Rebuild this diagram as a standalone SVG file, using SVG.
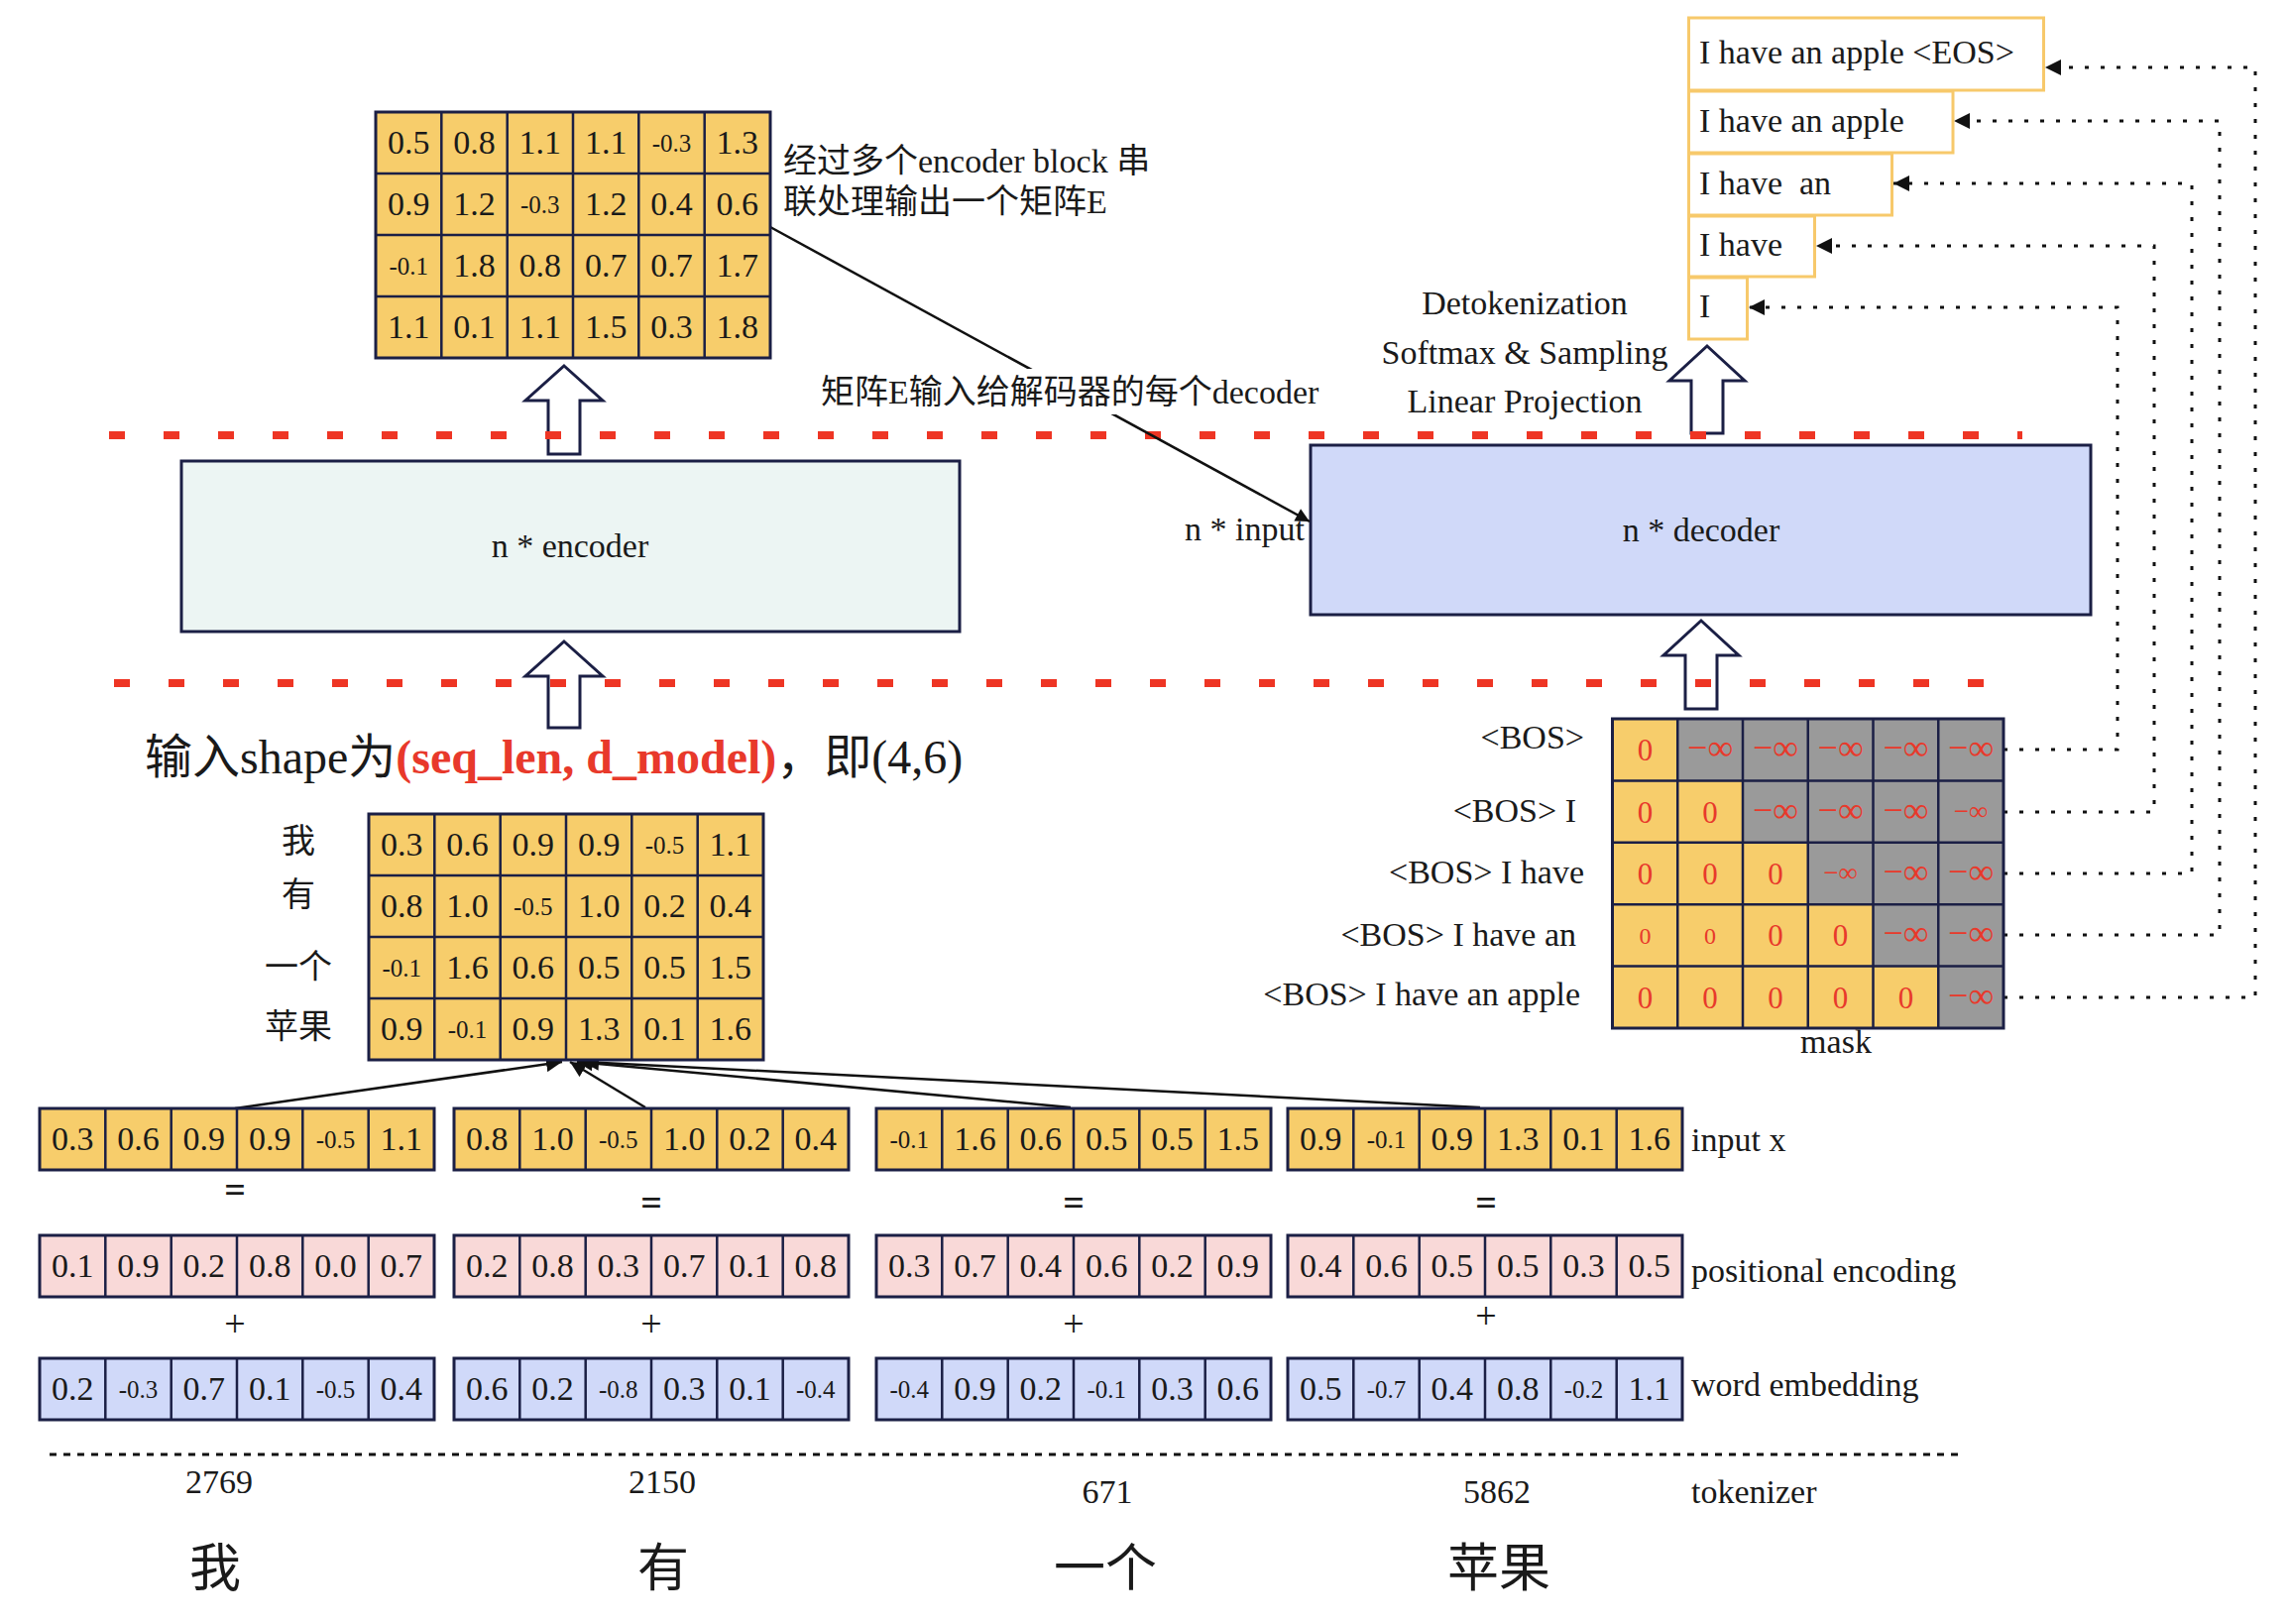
<svg xmlns="http://www.w3.org/2000/svg" width="2310" height="1638" viewBox="0 0 2310 1638">
<style>
text{font-family:'Liberation Serif','Noto Sans CJK SC',serif;fill:#1a1a1a}
.n{font-size:34px;text-anchor:middle}
.s{font-size:25px;text-anchor:middle}
.l{font-size:34px}
.op{font-size:38px;text-anchor:middle}
.cjk{font-family:'Noto Sans CJK SC',sans-serif;text-anchor:middle}
.yc{fill:#F7CD6B;stroke:#1B1F45;stroke-width:3}
.pc{fill:#F9D9D8;stroke:#1B1F45;stroke-width:3}
.bc{fill:#D0D9F9;stroke:#1B1F45;stroke-width:3}
.gl{fill:none;stroke:#1B1F45;stroke-width:2.5}
.ob{fill:#fff;stroke:#F7C96B;stroke-width:3}
.ha{fill:#fff;stroke:#1B1F45;stroke-width:3;stroke-linejoin:miter}
.rd{stroke:#EE3524;stroke-width:8;stroke-dasharray:16 39;fill:none}
.dot{fill:none;stroke:#111;stroke-width:3;stroke-dasharray:4 12}
.con{fill:none;stroke:#111;stroke-width:2.5}
.red{fill:#E8392B}
.z{font-size:31px;text-anchor:middle;fill:#E8392B}
.zs{font-size:24px;text-anchor:middle;fill:#E8392B}
.inf{font-size:36px;text-anchor:middle;fill:#E8392B}
.infs{font-size:27px;text-anchor:middle;fill:#E8392B}
</style>
<defs>
<marker id="ah" viewBox="0 0 10 10" refX="10" refY="5" markerWidth="16" markerHeight="16" markerUnits="userSpaceOnUse" orient="auto"><path d="M0,0 L10,5 L0,10 z" fill="#111"/></marker>
<marker id="ah2" viewBox="0 0 10 10" refX="10" refY="5" markerWidth="18" markerHeight="14" markerUnits="userSpaceOnUse" orient="auto"><path d="M0,0 L10,5 L0,10 z" fill="#111"/></marker>
</defs>
<rect width="2310" height="1638" fill="#fff"/>

<!-- hollow arrows -->
<g id="arrows">
<polygon class="ha" points="569,369 608,404 585,404 585,458 553,458 553,404 530,404"/>
<polygon class="ha" points="569,647 608,682 585,682 585,734 553,734 553,682 530,682"/>
<polygon class="ha" points="1716,626 1754,661 1732,661 1732,715 1700,715 1700,661 1678,661"/>
<polygon class="ha" points="1722,349 1760,384 1738,384 1738,437 1706,437 1706,384 1684,384"/>
</g>

<!-- red separators -->
<g id="separators">
<line class="rd" x1="110" y1="439" x2="2040" y2="439"/>
<line class="rd" x1="115" y1="689" x2="2040" y2="689"/>
</g>

<!-- encoder -->
<g id="encoder">
<rect x="183" y="465" width="785" height="172" fill="#ECF5F3" stroke="#1B1F45" stroke-width="3"/>
<text class="n" x="575" y="562">n * encoder</text>
</g>

<!-- decoder -->
<g id="decoder">
<rect x="1322" y="449" width="787" height="171" fill="#D0D9F9" stroke="#1B1F45" stroke-width="3"/>
<text class="n" x="1716" y="546">n * decoder</text>
<text class="l" x="1316" y="545" text-anchor="end">n * input</text>
</g>

<!-- connectors -->
<g id="connectors">
<line class="con" x1="777" y1="229" x2="1321" y2="526" marker-end="url(#ah2)"/>
<line class="con" x1="237" y1="1118" x2="567" y2="1071" marker-end="url(#ah)"/>
<line class="con" x1="651" y1="1117" x2="575" y2="1071" marker-end="url(#ah)"/>
<line class="con" x1="1080" y1="1117" x2="582" y2="1071" marker-end="url(#ah)"/>
<line class="con" x1="1493" y1="1117" x2="588" y2="1071" marker-end="url(#ah)"/>
<path class="dot" d="M2021,1006 H2275 V68 H2063" marker-end="url(#ah)"/>
<path class="dot" d="M2021,943 H2239 V122 H1971" marker-end="url(#ah)"/>
<path class="dot" d="M2021,881 H2211 V185 H1910" marker-end="url(#ah)"/>
<path class="dot" d="M2021,819 H2173 V248 H1832" marker-end="url(#ah)"/>
<path class="dot" d="M2021,756 H2136 V310 H1764" marker-end="url(#ah)"/>
<line x1="50" y1="1467" x2="1982" y2="1467" stroke="#111" stroke-width="3" stroke-dasharray="7 7"/>
</g>

<!-- label on E->decoder -->
<g id="label-e">
<rect x="822" y="372" width="522" height="46" fill="#fff"/>
<text class="l" x="828" y="407">矩阵E输入给解码器的每个decoder</text>
</g>

<!-- matrix E -->
<g id="matrix-e">
<rect class="yc" x="379" y="113" width="398" height="248"/>
<path class="gl" d="M445.3,113V361M511.7,113V361M578,113V361M644.3,113V361M710.7,113V361M379,175H777M379,237H777M379,299H777"/>
<text class="n" x="412.2" y="155">0.5</text><text class="n" x="478.5" y="155">0.8</text><text class="n" x="544.8" y="155">1.1</text><text class="n" x="611.2" y="155">1.1</text><text class="s" x="677.5" y="153">-0.3</text><text class="n" x="743.8" y="155">1.3</text>
<text class="n" x="412.2" y="217">0.9</text><text class="n" x="478.5" y="217">1.2</text><text class="s" x="544.8" y="215">-0.3</text><text class="n" x="611.2" y="217">1.2</text><text class="n" x="677.5" y="217">0.4</text><text class="n" x="743.8" y="217">0.6</text>
<text class="s" x="412.2" y="277">-0.1</text><text class="n" x="478.5" y="279">1.8</text><text class="n" x="544.8" y="279">0.8</text><text class="n" x="611.2" y="279">0.7</text><text class="n" x="677.5" y="279">0.7</text><text class="n" x="743.8" y="279">1.7</text>
<text class="n" x="412.2" y="341">1.1</text><text class="n" x="478.5" y="341">0.1</text><text class="n" x="544.8" y="341">1.1</text><text class="n" x="611.2" y="341">1.5</text><text class="n" x="677.5" y="341">0.3</text><text class="n" x="743.8" y="341">1.8</text>
</g>
<g id="note-e">
<text class="l" x="790" y="174">经过多个encoder block 串</text>
<text class="l" x="790" y="215">联处理输出一个矩阵E</text>
</g>

<!-- decoder output side labels -->
<g id="head-labels">
<text class="n" x="1538" y="317">Detokenization</text>
<text class="n" x="1538" y="367">Softmax &amp; Sampling</text>
<text class="n" x="1538" y="416">Linear Projection</text>
</g>

<!-- output boxes -->
<g id="out1"><rect class="ob" x="1703.5" y="18" width="358" height="73"/><text class="l" x="1714" y="64">I have an apple &lt;EOS&gt;</text></g>
<g id="out2"><rect class="ob" x="1703.5" y="92" width="266.5" height="62"/><text class="l" x="1714" y="133">I have an apple</text></g>
<g id="out3"><rect class="ob" x="1703.5" y="155" width="205" height="62"/><text class="l" x="1714" y="196" style="white-space:pre">I have  an</text></g>
<g id="out4"><rect class="ob" x="1703.5" y="218" width="127" height="61"/><text class="l" x="1714" y="258">I have</text></g>
<g id="out5"><rect class="ob" x="1703.5" y="280" width="59" height="62"/><text class="l" x="1714" y="320">I</text></g>

<!-- shape caption -->
<g id="caption">
<text x="146" y="780" style="font-size:48px">输入shape为<tspan class="red" font-weight="bold">(seq_len, d_model)</tspan>，即(4,6)</text>
</g>

<!-- input matrix -->
<g id="matrix-x">
<rect class="yc" x="372" y="821" width="398" height="248"/>
<path class="gl" d="M438.3,821V1069M504.7,821V1069M571,821V1069M637.3,821V1069M703.7,821V1069M372,883H770M372,945H770M372,1007H770"/>
<text class="n" x="405.2" y="863">0.3</text><text class="n" x="471.5" y="863">0.6</text><text class="n" x="537.8" y="863">0.9</text><text class="n" x="604.2" y="863">0.9</text><text class="s" x="670.5" y="861">-0.5</text><text class="n" x="736.8" y="863">1.1</text>
<text class="n" x="405.2" y="925">0.8</text><text class="n" x="471.5" y="925">1.0</text><text class="s" x="537.8" y="923">-0.5</text><text class="n" x="604.2" y="925">1.0</text><text class="n" x="670.5" y="925">0.2</text><text class="n" x="736.8" y="925">0.4</text>
<text class="s" x="405.2" y="985">-0.1</text><text class="n" x="471.5" y="987">1.6</text><text class="n" x="537.8" y="987">0.6</text><text class="n" x="604.2" y="987">0.5</text><text class="n" x="670.5" y="987">0.5</text><text class="n" x="736.8" y="987">1.5</text>
<text class="n" x="405.2" y="1049">0.9</text><text class="s" x="471.5" y="1047">-0.1</text><text class="n" x="537.8" y="1049">0.9</text><text class="n" x="604.2" y="1049">1.3</text><text class="n" x="670.5" y="1049">0.1</text><text class="n" x="736.8" y="1049">1.6</text>
<text class="cjk" x="301" y="860" font-size="34">我</text>
<text class="cjk" x="301" y="914" font-size="34">有</text>
<text class="cjk" x="301" y="987" font-size="34">一个</text>
<text class="cjk" x="301" y="1047" font-size="34">苹果</text>
</g>

<!-- input x vectors -->
<g id="input-x">
<rect class="yc" x="40" y="1118" width="398" height="62"/><rect class="yc" x="458" y="1118" width="398" height="62"/><rect class="yc" x="884" y="1118" width="398" height="62"/><rect class="yc" x="1299" y="1118" width="398" height="62"/>
<path class="gl" d="M106.3,1118v62M172.7,1118v62M239,1118v62M305.3,1118v62M371.7,1118v62M524.3,1118v62M590.7,1118v62M657,1118v62M723.3,1118v62M789.7,1118v62M950.3,1118v62M1016.7,1118v62M1083,1118v62M1149.3,1118v62M1215.7,1118v62M1365.3,1118v62M1431.7,1118v62M1498,1118v62M1564.3,1118v62M1630.7,1118v62"/>
<text class="n" x="73.2" y="1160">0.3</text><text class="n" x="139.5" y="1160">0.6</text><text class="n" x="205.8" y="1160">0.9</text><text class="n" x="272.2" y="1160">0.9</text><text class="s" x="338.5" y="1158">-0.5</text><text class="n" x="404.8" y="1160">1.1</text>
<text class="n" x="491.2" y="1160">0.8</text><text class="n" x="557.5" y="1160">1.0</text><text class="s" x="623.8" y="1158">-0.5</text><text class="n" x="690.2" y="1160">1.0</text><text class="n" x="756.5" y="1160">0.2</text><text class="n" x="822.8" y="1160">0.4</text>
<text class="s" x="917.2" y="1158">-0.1</text><text class="n" x="983.5" y="1160">1.6</text><text class="n" x="1049.8" y="1160">0.6</text><text class="n" x="1116.2" y="1160">0.5</text><text class="n" x="1182.5" y="1160">0.5</text><text class="n" x="1248.8" y="1160">1.5</text>
<text class="n" x="1332.2" y="1160">0.9</text><text class="s" x="1398.5" y="1158">-0.1</text><text class="n" x="1464.8" y="1160">0.9</text><text class="n" x="1531.2" y="1160">1.3</text><text class="n" x="1597.5" y="1160">0.1</text><text class="n" x="1663.8" y="1160">1.6</text>
<text class="l" x="1706" y="1161">input x</text>
</g>

<!-- operators -->
<g id="ops">
<text class="op" x="237" y="1213" font-weight="bold">=</text><text class="op" x="657" y="1226" font-weight="bold">=</text><text class="op" x="1083" y="1226" font-weight="bold">=</text><text class="op" x="1499" y="1226" font-weight="bold">=</text>
<text class="op" x="237" y="1348">+</text><text class="op" x="657" y="1348">+</text><text class="op" x="1083" y="1348">+</text><text class="op" x="1499" y="1340">+</text>
</g>

<!-- positional encoding -->
<g id="pos-enc">
<rect class="pc" x="40" y="1246" width="398" height="62"/><rect class="pc" x="458" y="1246" width="398" height="62"/><rect class="pc" x="884" y="1246" width="398" height="62"/><rect class="pc" x="1299" y="1246" width="398" height="62"/>
<path class="gl" d="M106.3,1246v62M172.7,1246v62M239,1246v62M305.3,1246v62M371.7,1246v62M524.3,1246v62M590.7,1246v62M657,1246v62M723.3,1246v62M789.7,1246v62M950.3,1246v62M1016.7,1246v62M1083,1246v62M1149.3,1246v62M1215.7,1246v62M1365.3,1246v62M1431.7,1246v62M1498,1246v62M1564.3,1246v62M1630.7,1246v62"/>
<text class="n" x="73.2" y="1288">0.1</text><text class="n" x="139.5" y="1288">0.9</text><text class="n" x="205.8" y="1288">0.2</text><text class="n" x="272.2" y="1288">0.8</text><text class="n" x="338.5" y="1288">0.0</text><text class="n" x="404.8" y="1288">0.7</text>
<text class="n" x="491.2" y="1288">0.2</text><text class="n" x="557.5" y="1288">0.8</text><text class="n" x="623.8" y="1288">0.3</text><text class="n" x="690.2" y="1288">0.7</text><text class="n" x="756.5" y="1288">0.1</text><text class="n" x="822.8" y="1288">0.8</text>
<text class="n" x="917.2" y="1288">0.3</text><text class="n" x="983.5" y="1288">0.7</text><text class="n" x="1049.8" y="1288">0.4</text><text class="n" x="1116.2" y="1288">0.6</text><text class="n" x="1182.5" y="1288">0.2</text><text class="n" x="1248.8" y="1288">0.9</text>
<text class="n" x="1332.2" y="1288">0.4</text><text class="n" x="1398.5" y="1288">0.6</text><text class="n" x="1464.8" y="1288">0.5</text><text class="n" x="1531.2" y="1288">0.5</text><text class="n" x="1597.5" y="1288">0.3</text><text class="n" x="1663.8" y="1288">0.5</text>
<text class="l" x="1706" y="1293">positional encoding</text>
</g>

<!-- word embedding -->
<g id="word-emb">
<rect class="bc" x="40" y="1370" width="398" height="62"/><rect class="bc" x="458" y="1370" width="398" height="62"/><rect class="bc" x="884" y="1370" width="398" height="62"/><rect class="bc" x="1299" y="1370" width="398" height="62"/>
<path class="gl" d="M106.3,1370v62M172.7,1370v62M239,1370v62M305.3,1370v62M371.7,1370v62M524.3,1370v62M590.7,1370v62M657,1370v62M723.3,1370v62M789.7,1370v62M950.3,1370v62M1016.7,1370v62M1083,1370v62M1149.3,1370v62M1215.7,1370v62M1365.3,1370v62M1431.7,1370v62M1498,1370v62M1564.3,1370v62M1630.7,1370v62"/>
<text class="n" x="73.2" y="1412">0.2</text><text class="s" x="139.5" y="1410">-0.3</text><text class="n" x="205.8" y="1412">0.7</text><text class="n" x="272.2" y="1412">0.1</text><text class="s" x="338.5" y="1410">-0.5</text><text class="n" x="404.8" y="1412">0.4</text>
<text class="n" x="491.2" y="1412">0.6</text><text class="n" x="557.5" y="1412">0.2</text><text class="s" x="623.8" y="1410">-0.8</text><text class="n" x="690.2" y="1412">0.3</text><text class="n" x="756.5" y="1412">0.1</text><text class="s" x="822.8" y="1410">-0.4</text>
<text class="s" x="917.2" y="1410">-0.4</text><text class="n" x="983.5" y="1412">0.9</text><text class="n" x="1049.8" y="1412">0.2</text><text class="s" x="1116.2" y="1410">-0.1</text><text class="n" x="1182.5" y="1412">0.3</text><text class="n" x="1248.8" y="1412">0.6</text>
<text class="n" x="1332.2" y="1412">0.5</text><text class="s" x="1398.5" y="1410">-0.7</text><text class="n" x="1464.8" y="1412">0.4</text><text class="n" x="1531.2" y="1412">0.8</text><text class="s" x="1597.5" y="1410">-0.2</text><text class="n" x="1663.8" y="1412">1.1</text>
<text class="l" x="1706" y="1408">word embedding</text>
</g>

<!-- tokenizer -->
<g id="tokens">
<text class="n" x="221" y="1506">2769</text><text class="n" x="668" y="1506">2150</text><text class="n" x="1117" y="1516">671</text><text class="n" x="1510" y="1516">5862</text>
<text class="l" x="1706" y="1516">tokenizer</text>
<text class="cjk" x="217" y="1600" font-size="52">我</text>
<text class="cjk" x="669" y="1600" font-size="52">有</text>
<text class="cjk" x="1115" y="1600" font-size="52">一个</text>
<text class="cjk" x="1512" y="1600" font-size="52">苹果</text>
</g>

<!-- mask -->
<g id="mask">
<rect x="1626.5" y="725" width="394.5" height="312" fill="#9A9A9A"/>
<polygon points="1626.5,725 1692.25,725 1692.25,787.4 1758,787.4 1758,849.8 1823.75,849.8 1823.75,912.2 1889.5,912.2 1889.5,974.6 1955.25,974.6 1955.25,1037 1626.5,1037" fill="#F7CD6B"/>
<rect x="1626.5" y="725" width="394.5" height="312" fill="none" stroke="#1B1F45" stroke-width="3"/>
<path class="gl" d="M1692.25,725V1037M1758,725V1037M1823.75,725V1037M1889.5,725V1037M1955.25,725V1037M1626.5,787.4H2021M1626.5,849.8H2021M1626.5,912.2H2021M1626.5,974.6H2021"/>
<text class="z" x="1659.4" y="767">0</text><text class="inf" x="1725.1" y="766">−∞</text><text class="inf" x="1790.9" y="766">−∞</text><text class="inf" x="1856.6" y="766">−∞</text><text class="inf" x="1922.4" y="766">−∞</text><text class="inf" x="1988.1" y="766">−∞</text>
<text class="z" x="1659.4" y="830">0</text><text class="z" x="1725.1" y="830">0</text><text class="inf" x="1790.9" y="829">−∞</text><text class="inf" x="1856.6" y="829">−∞</text><text class="inf" x="1922.4" y="829">−∞</text><text class="infs" x="1988.1" y="827">−∞</text>
<text class="z" x="1659.4" y="892">0</text><text class="z" x="1725.1" y="892">0</text><text class="z" x="1790.9" y="892">0</text><text class="infs" x="1856.6" y="889">−∞</text><text class="inf" x="1922.4" y="891">−∞</text><text class="inf" x="1988.1" y="891">−∞</text>
<text class="zs" x="1659.4" y="952">0</text><text class="zs" x="1725.1" y="952">0</text><text class="z" x="1790.9" y="954">0</text><text class="z" x="1856.6" y="954">0</text><text class="inf" x="1922.4" y="953">−∞</text><text class="inf" x="1988.1" y="953">−∞</text>
<text class="z" x="1659.4" y="1017">0</text><text class="z" x="1725.1" y="1017">0</text><text class="z" x="1790.9" y="1017">0</text><text class="z" x="1856.6" y="1017">0</text><text class="z" x="1922.4" y="1017">0</text><text class="inf" x="1988.1" y="1016">−∞</text>
<text class="l" x="1598" y="755" text-anchor="end">&lt;BOS&gt;</text>
<text class="l" x="1590" y="829" text-anchor="end">&lt;BOS&gt; I</text>
<text class="l" x="1598" y="891" text-anchor="end">&lt;BOS&gt; I have</text>
<text class="l" x="1590" y="954" text-anchor="end">&lt;BOS&gt; I have an</text>
<text class="l" x="1594" y="1014" text-anchor="end">&lt;BOS&gt; I have an apple</text>
<text class="n" x="1852" y="1062">mask</text>
</g>
</svg>
